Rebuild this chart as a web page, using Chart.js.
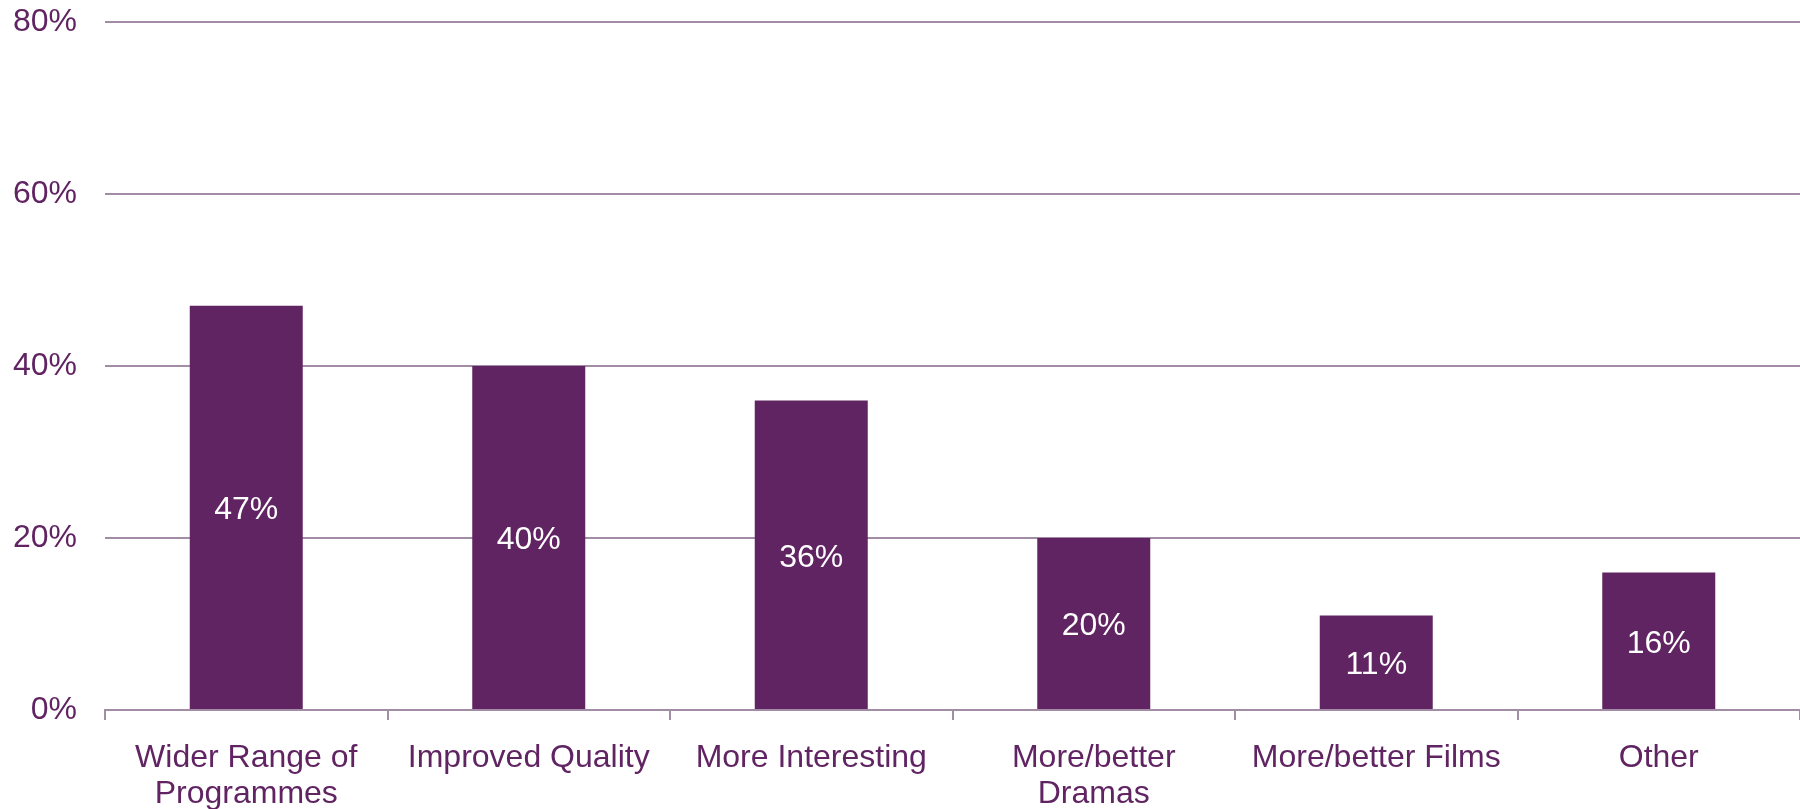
<!DOCTYPE html>
<html>
<head>
<meta charset="utf-8">
<script src="https://cdn.jsdelivr.net/npm/chart.js@4/dist/chart.umd.min.js"></script>
<style>
html,body{margin:0;padding:0;background:#fff;}
#wrap{width:1800px;height:809px;position:relative;}
</style>
</head>
<body>
<div id="wrap"><canvas id="c"></canvas></div>
<script>
const categories = [["Wider Range of","Programmes"],"Improved Quality","More Interesting",["More/better","Dramas"],"More/better Films","Other"];
const values = [47, 40, 36, 20, 11, 16];
const yTicks = [0, 20, 40, 60, 80];

const purple = '#612463';
const gridCol = '#a38ca6';
const fontFam = '"Liberation Sans", Arial, sans-serif';

const labelPlugin = {
  id: 'innerLabels',
  afterDatasetsDraw(chart) {
    const ctx = chart.ctx;
    const meta = chart.getDatasetMeta(0);
    ctx.save();
    ctx.fillStyle = '#ffffff';
    ctx.font = '32px ' + fontFam;
    ctx.textAlign = 'center';
    ctx.textBaseline = 'middle';
    meta.data.forEach((bar, i) => {
      const mid = (bar.y + bar.base) / 2 + 3;
      ctx.fillText(values[i] + '%', bar.x, mid);
    });
    ctx.restore();
  }
};

new Chart(document.getElementById('c'), {
  type: 'bar',
  data: {
    labels: categories,
    datasets: [{
      data: values,
      backgroundColor: purple,
      borderWidth: 0,
      barPercentage: 0.4,
      categoryPercentage: 1.0
    }]
  },
  options: {
    responsive: true,
    maintainAspectRatio: false,
    animation: false,
    layout: { padding: { left: 0, top: 22, right: 0, bottom: 0 } },
    plugins: { legend: { display: false }, tooltip: { enabled: false } },
    scales: {
      x: {
        offset: true,
        grid: { display: true, drawOnChartArea: false, offset: true, color: gridCol, lineWidth: 2, tickLength: 10 },
        border: { display: true, color: gridCol, width: 2 },
        ticks: { color: purple, font: { family: fontFam, size: 32, lineHeight: 1.1 }, padding: 21, maxRotation: 0, autoSkip: false },
        afterFit(axis) { axis.height = 99; axis.paddingLeft = 0; axis.paddingRight = 0; }
      },
      y: {
        min: 0, max: 80,
        afterBuildTicks(axis) { axis.ticks = yTicks.map(v => ({ value: v })); },
        grid: { color: gridCol, lineWidth: 2, drawTicks: false },
        border: { display: false },
        ticks: { color: purple, font: { family: fontFam, size: 32 }, padding: 28, callback: v => v + '%' },
        afterFit(axis) { axis.width = 105; axis.paddingTop = 0; axis.paddingBottom = 0; }
      }
    }
  },
  plugins: [labelPlugin]
});
</script>
</body>
</html>
